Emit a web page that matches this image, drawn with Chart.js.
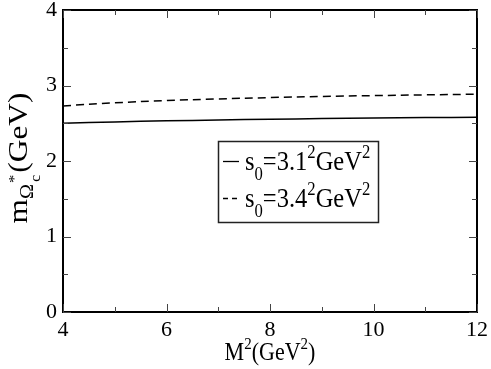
<!DOCTYPE html>
<html>
<head>
<meta charset="utf-8">
<script src="https://cdn.jsdelivr.net/npm/chart.js@4.4.1/dist/chart.umd.min.js"></script>
<style>
  html, body { margin: 0; padding: 0; background: #fff; }
  #wrap { width: 491px; height: 369px; position: relative; }
</style>
</head>
<body>
<div id="wrap"><canvas id="chart" width="491" height="369"></canvas></div>
<script>
// M^2 values (GeV^2)
const msq = [4, 5, 6, 7, 8, 9, 10, 11, 12];
// mass for s0 = 3.1^2 GeV^2 (solid)
const massS31 = [2.50, 2.518, 2.532, 2.543, 2.553, 2.562, 2.569, 2.575, 2.58];
// mass for s0 = 3.4^2 GeV^2 (dashed)
const massS34 = [2.73, 2.77, 2.80, 2.822, 2.84, 2.855, 2.866, 2.876, 2.885];

const xTicks = [4, 6, 8, 10, 12];
const yTicks = [0, 1, 2, 3, 4];

const SERIF = '"Liberation Serif", "DejaVu Serif", serif';

// frame, inward ticks, axis titles, legend
const decor = {
    id: 'decor',
    afterDraw(chart) {
        const ctx = chart.ctx;
        const a = chart.chartArea;
        const xs = chart.scales.x, ys = chart.scales.y;
        ctx.save();
        ctx.strokeStyle = '#000';
        ctx.lineWidth = 2;
        ctx.strokeRect(a.left, a.top, a.right - a.left, a.bottom - a.top);

        // inward ticks
        ctx.lineWidth = 1;
        ctx.strokeStyle = '#444';
        for (let v = 4; v <= 12; v += 1) {
            const px = Math.round(xs.getPixelForValue(v)) + 0.5;
            const len = v % 2 === 0 ? 8 : 5;
            ctx.beginPath();
            ctx.moveTo(px, a.bottom); ctx.lineTo(px, a.bottom - len);
            ctx.moveTo(px, a.top); ctx.lineTo(px, a.top + len);
            ctx.stroke();
        }
        for (let v = 0; v <= 4; v += 0.5) {
            const py = Math.round(ys.getPixelForValue(v)) + 0.5;
            const len = Number.isInteger(v) ? 8 : 5;
            ctx.beginPath();
            ctx.moveTo(a.left, py); ctx.lineTo(a.left + len, py);
            ctx.moveTo(a.right, py); ctx.lineTo(a.right - len, py);
            ctx.stroke();
        }

        ctx.fillStyle = '#000';
        ctx.textBaseline = 'alphabetic';

        // x title: M^2(GeV^2)
        const xt = [['M', 22, 0], ['2', 15, -10], ['(GeV', 22, 0], ['2', 15, -10], [')', 22, 0]];
        drawRich(ctx, xt, (a.left + a.right) / 2, 360, true, 1, 1.1);

        // y title: m_{Omega*_c} (GeV), rotated, text stretched along its length
        ctx.save();
        ctx.translate(27, 158);
        ctx.rotate(-Math.PI / 2);
        const yt = [['m', 28, 0], ['\u03A9', 18, 6], ['*', 15, -8, 1, true], ['c', 14, 13, 1], ['(GeV)', 28, 0, 2]];
        drawRich(ctx, yt, 0, 0, true, 1.12, 1);
        ctx.restore();

        // legend
        const lx = 218, ly = 141, lw = 160, lh = 81;
        ctx.lineWidth = 1.5;
        ctx.strokeStyle = '#222';
        ctx.strokeRect(lx + 0.5, ly + 0.5, lw, lh);
        const rows = [{ dash: [], y: 170, val: '3.1' }, { dash: [5, 4], y: 207, val: '3.4' }];
        rows.forEach(r => {
            ctx.lineWidth = 1.3;
            ctx.strokeStyle = '#000';
            ctx.setLineDash(r.dash);
            ctx.beginPath();
            ctx.moveTo(lx + 5, r.y - 8.5); ctx.lineTo(lx + 21, r.y - 8.5);
            ctx.stroke();
            ctx.setLineDash([]);
            const parts = [['s', 25, 0], ['0', 17, 9], ['=' + r.val, 25, 0], ['2', 17, -11], ['GeV', 25, 0], ['2', 17, -11]];
            drawRich(ctx, parts, lx + 27, r.y, false, 0.98, 1.1);
        });
        ctx.restore();
    }
};

// parts: [text, size, yOffset, xAdjust, noAdvance]
function drawRich(ctx, parts, x, y, center, sx, sy) {
    let total = 0;
    parts.forEach(p => {
        ctx.font = p[1] + 'px ' + SERIF;
        total += (p[4] ? 0 : ctx.measureText(p[0]).width) + (p[3] || 0);
    });
    ctx.save();
    ctx.translate(x, y);
    ctx.scale(sx, sy);
    let cx = center ? -total / 2 : 0;
    ctx.textAlign = 'left';
    parts.forEach(p => {
        ctx.font = p[1] + 'px ' + SERIF;
        cx += (p[3] || 0);
        ctx.fillText(p[0], cx, p[2]);
        if (!p[4]) cx += ctx.measureText(p[0]).width;
    });
    ctx.restore();
}

new Chart(document.getElementById('chart'), {
    type: 'line',
    data: {
        labels: msq,
        datasets: [
            {
                label: 's0=3.1^2',
                data: msq.map((x, i) => ({ x: x, y: massS31[i] })),
                borderColor: '#000',
                borderWidth: 1.5,
                pointRadius: 0,
                tension: 0.4,
                fill: false
            },
            {
                label: 's0=3.4^2',
                data: msq.map((x, i) => ({ x: x, y: massS34[i] })),
                borderColor: '#000',
                borderWidth: 1.5,
                borderDash: [8, 5],
                pointRadius: 0,
                tension: 0.4,
                fill: false
            }
        ]
    },
    options: {
        responsive: false,
        animation: false,
        devicePixelRatio: 1,
        layout: { padding: { top: 10, right: 14, left: 0, bottom: 0 } },
        plugins: { legend: { display: false }, tooltip: { enabled: false } },
        scales: {
            x: {
                type: 'linear',
                min: 4, max: 12,
                afterBuildTicks: s => { s.ticks = xTicks.map(v => ({ value: v })); },
                afterFit: s => { s.height = 57; s.paddingLeft = 0; s.paddingRight = 0; },
                grid: { display: false, drawTicks: false },
                border: { display: false },
                ticks: { color: '#000', padding: 5, maxRotation: 0, font: { family: SERIF, size: 22 } }
            },
            y: {
                min: 0, max: 4,
                afterBuildTicks: s => { s.ticks = yTicks.map(v => ({ value: v })); },
                afterFit: s => { s.width = 63; s.paddingTop = 0; s.paddingBottom = 0; },
                grid: { display: false, drawTicks: false },
                border: { display: false },
                ticks: { color: '#000', padding: 6, font: { family: SERIF, size: 22 } }
            }
        }
    },
    plugins: [decor]
});
</script>
</body>
</html>
